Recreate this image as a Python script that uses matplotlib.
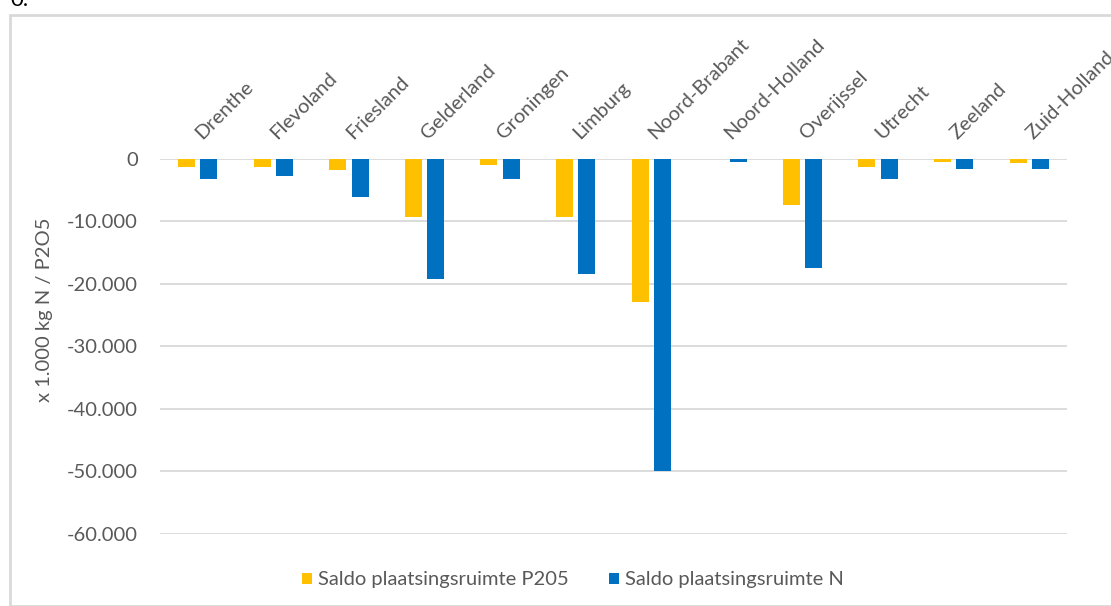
import matplotlib
matplotlib.use("Agg")
import matplotlib.pyplot as plt
import numpy as np
from matplotlib.ticker import FuncFormatter
from matplotlib.patches import Rectangle

provinces = ["Drenthe", "Flevoland", "Friesland", "Gelderland", "Groningen", "Limburg",
             "Noord-Brabant", "Noord-Holland", "Overijssel", "Utrecht", "Zeeland", "Zuid-Holland"]
saldo_p2o5 = [-1300, -1300, -1800, -9300, -1100, -9300, -22900, 0, -7400, -1300, -600, -700]
saldo_n = [-3300, -2800, -6200, -19200, -3300, -18400, -50000, -500, -17500, -3300, -1600, -1600]
y_ticks = [0, -10000, -20000, -30000, -40000, -50000, -60000]
series_labels = ["Saldo plaatsingsruimte P205", "Saldo plaatsingsruimte N"]

plt.rcParams['font.family'] = ['Lato', 'DejaVu Sans']
TXT = "#595959"
YEL = "#FFC000"
BLU = "#0070C0"
FS = 14.5

fig = plt.figure(figsize=(11.11, 6.06), dpi=100)
ax = fig.add_axes([160/1111, (606-534)/606, (1067-160)/1111, (534-158.5)/606])

x = np.arange(len(provinces))
w = 0.225
gap = 0.07
b1 = ax.bar(x - (w+gap)/2, saldo_p2o5, width=w, color=YEL, label=series_labels[0], zorder=3)
b2 = ax.bar(x + (w+gap)/2, saldo_n, width=w, color=BLU, label=series_labels[1], zorder=3)

ax.set_xlim(-0.5, len(provinces)-0.5)
ax.set_ylim(-60000, 0)
ax.set_yticks(y_ticks)
ax.yaxis.set_major_formatter(FuncFormatter(lambda v, p: f"{int(v):,}".replace(",", ".")))
ax.grid(axis='y', color="#D9D9D9", linewidth=1.3, zorder=0)
ax.set_axisbelow(True)
for s in ax.spines.values():
    s.set_visible(False)
ax.tick_params(axis='y', length=0, labelsize=FS, labelcolor=TXT, pad=16)

ax.xaxis.tick_top()
ax.set_xticks(x + 0.08)
ax.set_xticklabels(provinces, rotation=45, ha='left', va='bottom', rotation_mode='anchor',
                   fontsize=FS, color=TXT)
ax.tick_params(axis='x', length=0, pad=12)

fig.text(45/1111, (606-310)/606, "x 1.000 kg N / P2O5", rotation=90, ha='center', va='center',
         fontsize=FS, color=TXT)

leg = fig.legend(handles=[b1, b2], labels=series_labels, loc='center', bbox_to_anchor=(573/1111, (606-580)/606),
                 ncol=2, frameon=False, fontsize=FS, labelcolor=TXT, handlelength=0.5, handleheight=0.5,
                 handletextpad=0.3, columnspacing=2.0)

fig.patches.append(Rectangle((9.5/1111, 0), 1.2, (606-14.5)/606, transform=fig.transFigure,
                             fill=False, edgecolor="#D9D9D9", linewidth=2))
fig.text(10/1111, 1.0, "0.", fontsize=16, color="black", ha='left', va='center')

fig.savefig("out.png", dpi=100)
